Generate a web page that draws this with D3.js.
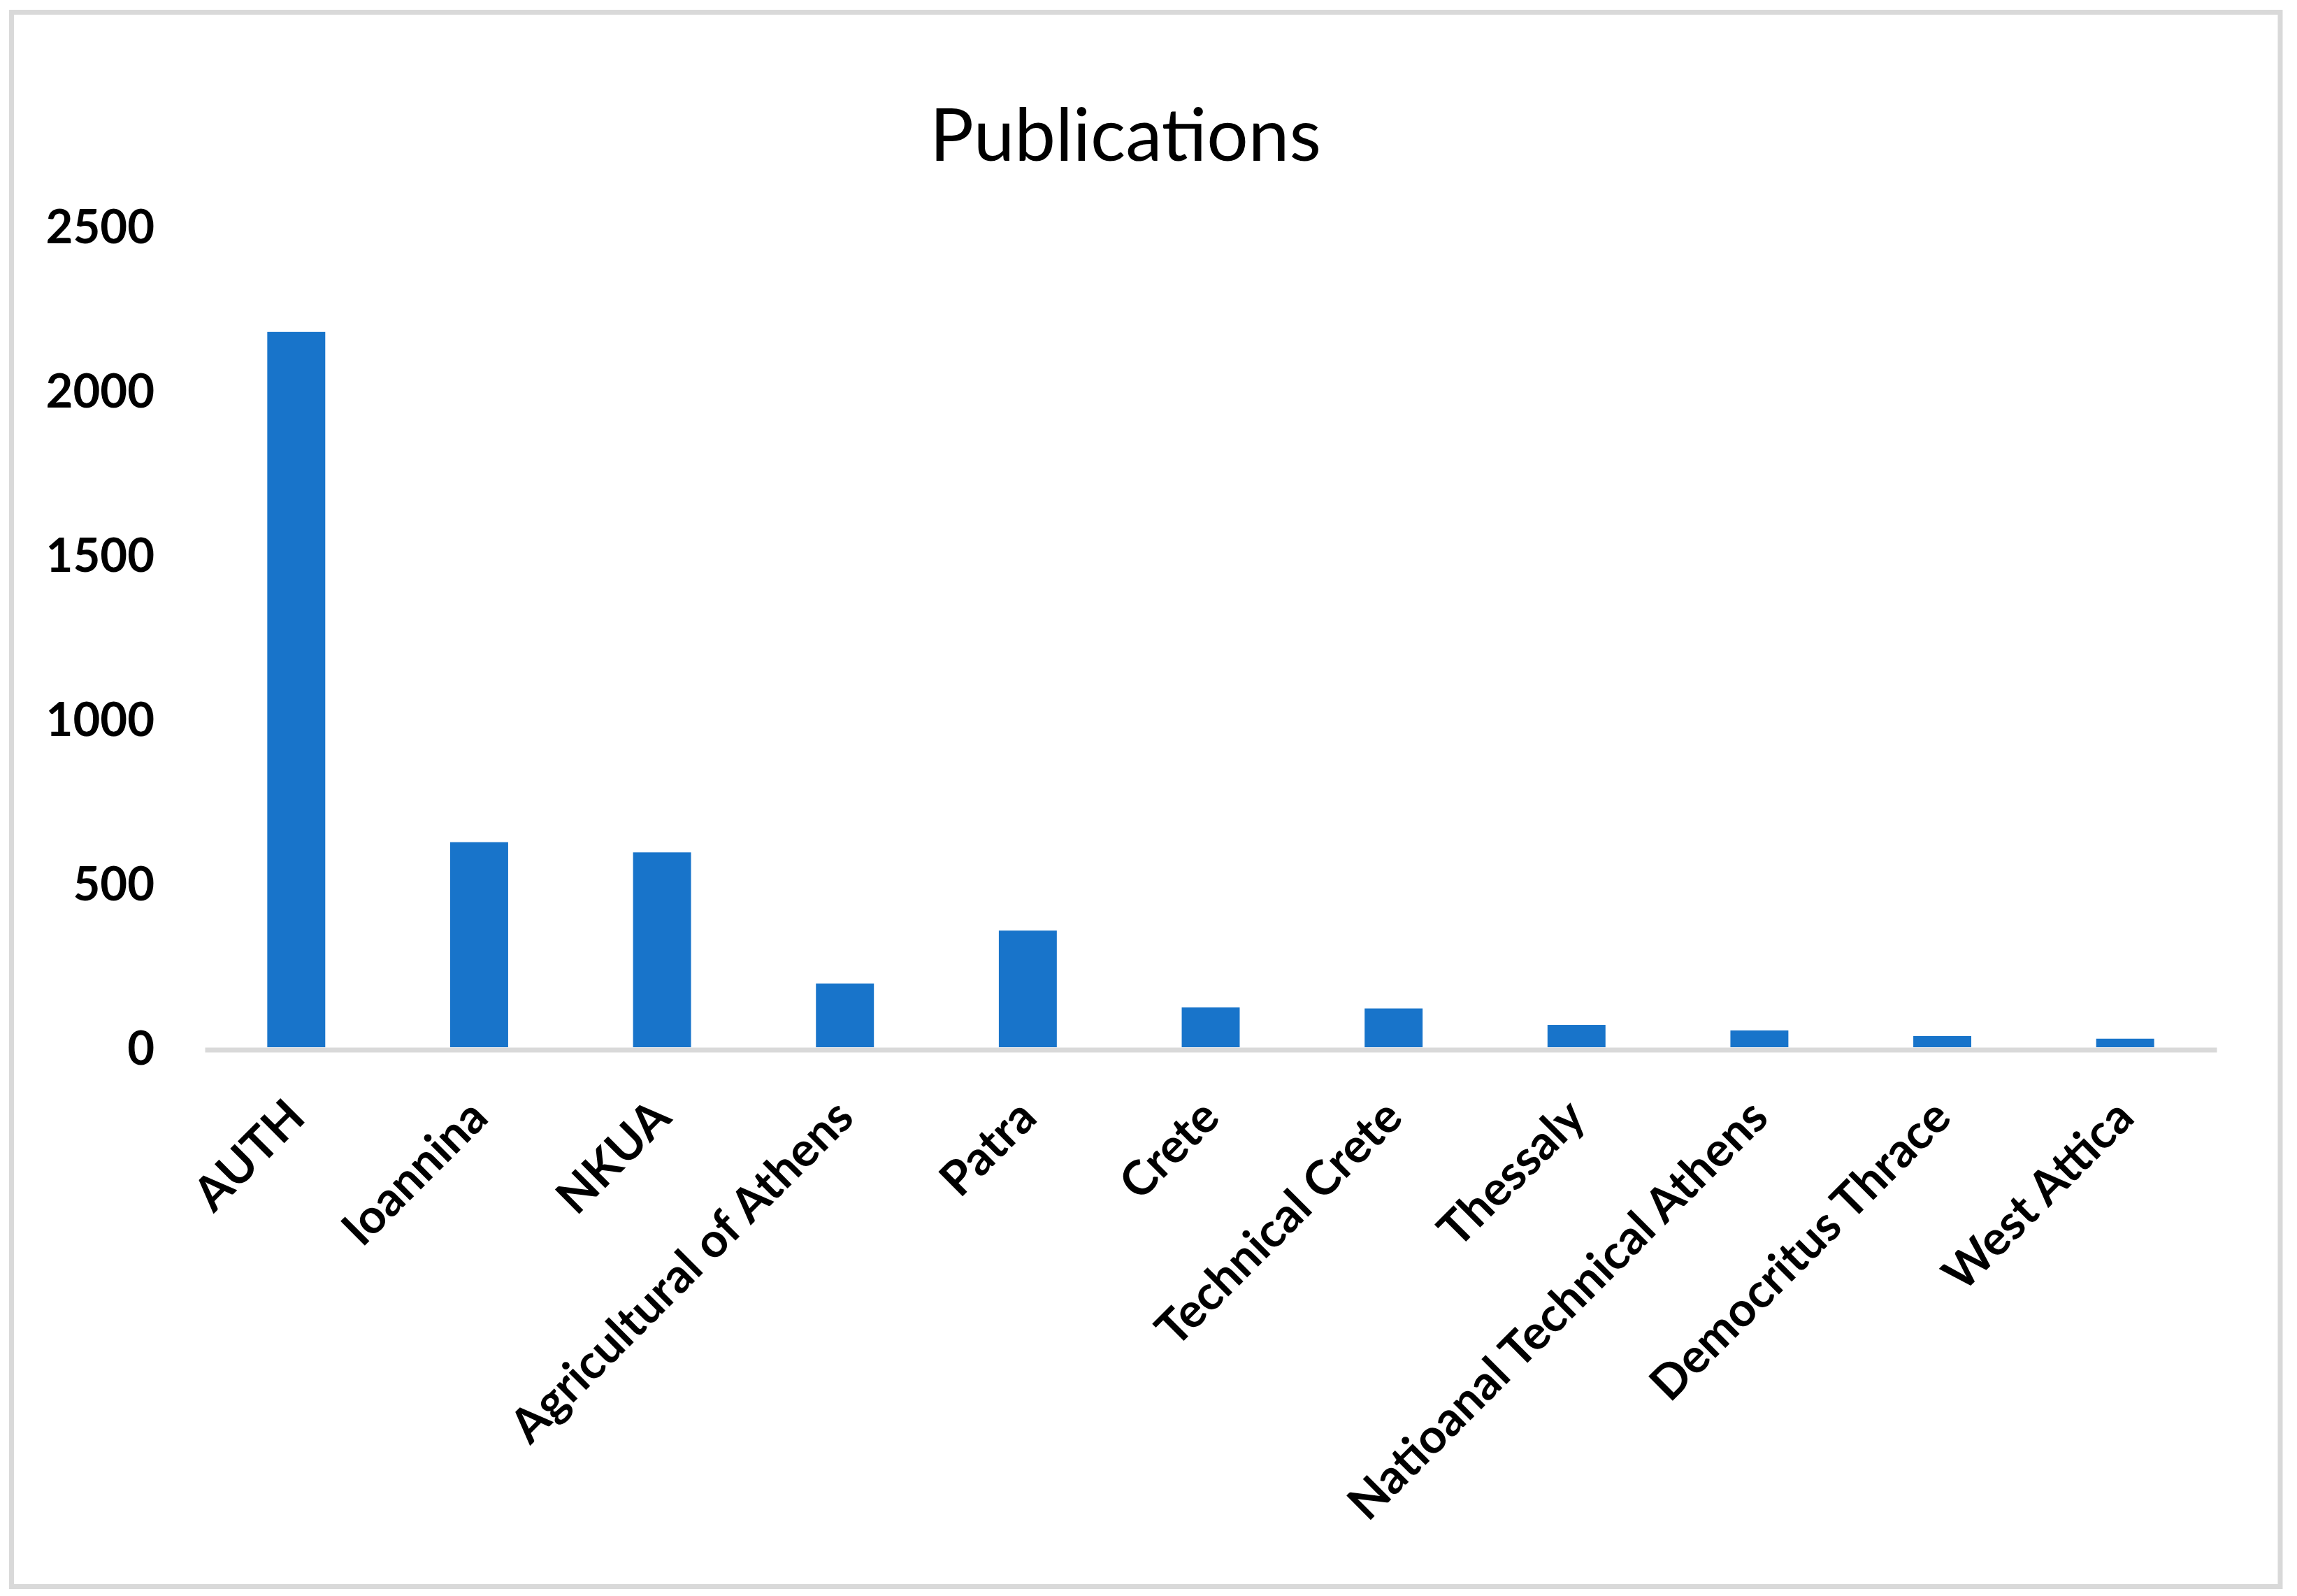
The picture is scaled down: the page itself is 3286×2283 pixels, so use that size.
<!DOCTYPE html>
<html>
<head>
<meta charset="utf-8">
<script src="https://cdn.jsdelivr.net/npm/d3@7"></script>
<style>
  html, body { margin: 0; padding: 0; background: #ffffff; }
  svg { display: block; }
</style>
</head>
<body>
<svg id="chart" width="3286" height="2283"></svg>
<script>
const categories = ["AUTH", "Ioannina", "NKUA", "Agricultural of Athens", "Patra", "Crete",
  "Technical Crete", "Thessaly", "Natioanal Technical Athens", "Democritus Thrace", "West Attica"];
const publications = [2177, 624, 593, 194, 355, 121, 118, 68, 51, 34, 26];
const yTicks = [0, 500, 1000, 1500, 2000, 2500];
const chartTitle = "Publications";

const W = 3286, H = 2283;
const svg = d3.select("#chart");

svg.append("rect").attr("x", 0).attr("y", 0).attr("width", W).attr("height", H).attr("fill", "#ffffff");
svg.append("rect")
  .attr("x", 16.5).attr("y", 17.5)
  .attr("width", 3262 - 16.5).attr("height", 2269.5 - 17.5)
  .attr("fill", "#ffffff").attr("stroke", "#d9d9d9").attr("stroke-width", 7);

const plotLeft = 293, plotRight = 3171, y0 = 1498, yTop = 323;
const pad = 0.683;
const x = d3.scaleBand().domain(categories).range([plotLeft, plotRight])
  .paddingInner(pad).paddingOuter(pad / 2);
const y = d3.scaleLinear().domain([0, 2500]).range([y0, yTop]);

// title
svg.append("text")
  .attr("x", 1610).attr("y", 230)
  .attr("text-anchor", "middle")
  .attr("font-family", "Lato, sans-serif")
  .attr("font-size", 105)
  .attr("fill", "#000000")
  .text(chartTitle);

// bars
svg.append("g").selectAll("rect")
  .data(categories.map((c, i) => ({ c, v: publications[i] })))
  .join("rect")
  .attr("x", d => x(d.c))
  .attr("width", x.bandwidth())
  .attr("y", d => y(d.v))
  .attr("height", d => y(0) - y(d.v))
  .attr("fill", "#1874CA");

// y axis
const yAxis = svg.append("g")
  .attr("transform", "translate(221,0)")
  .call(d3.axisLeft(y).tickValues(yTicks).tickSize(0).tickPadding(0).tickFormat(d3.format("d")));
yAxis.select(".domain").remove();
yAxis.selectAll("text")
  .attr("font-family", "Lato, sans-serif")
  .attr("font-weight", "bold")
  .attr("font-size", 67)
  .attr("fill", "#000000")
  .attr("dy", "0.36em");

// x axis
const axisY = 1501.5;
const xAxis = svg.append("g")
  .attr("transform", `translate(0,${axisY})`)
  .call(d3.axisBottom(x).tickSize(0).tickSizeOuter(0));
xAxis.select(".domain")
  .attr("stroke", "#d9d9d9")
  .attr("stroke-width", 7);
xAxis.selectAll("text")
  .attr("font-family", "Lato, sans-serif")
  .attr("font-weight", "bold")
  .attr("font-size", 68)
  .attr("fill", "#000000")
  .attr("y", 0)
  .attr("dy", 0)
  .attr("text-anchor", "end")
  .attr("transform", `translate(16,${1602 - axisY}) rotate(-45)`);
</script>
</body>
</html>
